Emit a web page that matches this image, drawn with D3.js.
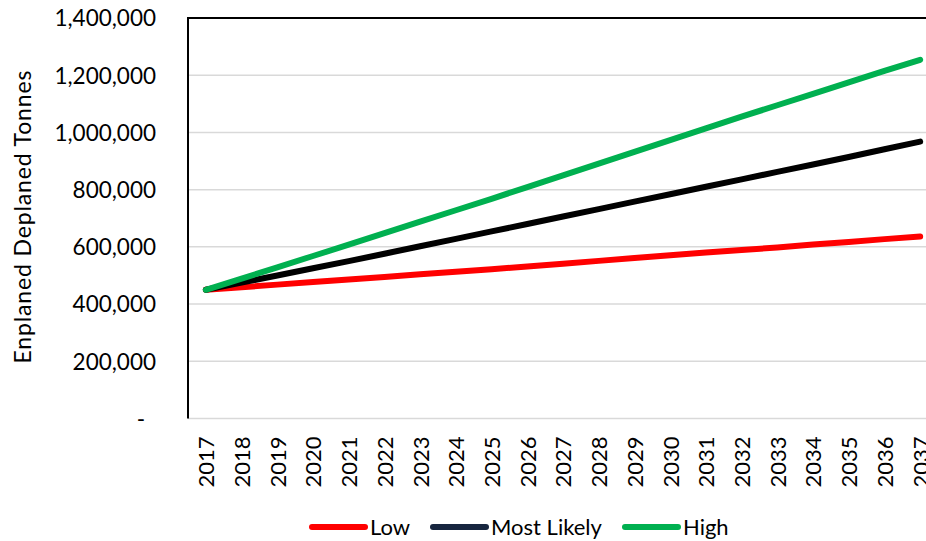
<!DOCTYPE html>
<html>
<head>
<meta charset="utf-8">
<script src="https://cdn.jsdelivr.net/npm/d3@7"></script>
<style>
  html, body { margin: 0; padding: 0; background: #fff; }
  svg { display: block; font-family: Lato, "Open Sans", sans-serif; }
</style>
</head>
<body>
<svg id="chart" width="926" height="541"></svg>
<script>
// Forecast years
const years = ["2017","2018","2019","2020","2021","2022","2023","2024","2025","2026","2027",
               "2028","2029","2030","2031","2032","2033","2034","2035","2036","2037"];

// Enplaned + deplaned tonnes per scenario
const lowValues = [450000, 459000, 468000, 477000, 486000, 495000, 504000, 513000, 522000, 531000, 541000,
                   551000, 561000, 571000, 580000, 589000, 598000, 608000, 617000, 627000, 636000];
const mostLikelyValues = [450000, 475000, 500000, 525000, 550000, 576000, 602000, 628000, 654000, 680000, 706000,
                          732000, 758000, 784000, 810000, 836000, 862000, 888000, 914000, 941000, 968000];
const highValues = [450000, 489000, 528000, 568000, 608000, 648000, 688000, 728000, 768000, 809000, 850000,
                    891000, 932000, 973000, 1014000, 1055000, 1095000, 1135000, 1175000, 1215000, 1254000];

const yTicks = [0, 200000, 400000, 600000, 800000, 1000000, 1200000, 1400000];
const seriesNames = ["Low", "Most Likely", "High"];

const svg = d3.select("#chart");
const W = 926;
const plot = { left: 188, top: 18, right: 938, bottom: 418.5 };

const x = d3.scalePoint().domain(years).range([plot.left, plot.right]).padding(0.5);
const y = d3.scaleLinear().domain([0, 1400000]).range([plot.bottom, plot.top]);

// Horizontal gridlines (light grey), including the baseline
svg.append("g")
  .selectAll("line")
  .data(yTicks.filter(v => v < 1400000))
  .join("line")
  .attr("x1", plot.left).attr("x2", W)
  .attr("y1", d => y(d)).attr("y2", d => y(d))
  .attr("stroke", "#d9d9d9").attr("stroke-width", 1.5);

// Plot frame: black top edge and left axis line
svg.append("line")
  .attr("x1", plot.left).attr("x2", W)
  .attr("y1", y(1400000)).attr("y2", y(1400000))
  .attr("stroke", "#000").attr("stroke-width", 2);
svg.append("line")
  .attr("x1", plot.left).attr("x2", plot.left)
  .attr("y1", plot.top - 1).attr("y2", plot.bottom)
  .attr("stroke", "#000").attr("stroke-width", 2);

// Y axis labels
const fmt = d3.format(",");
const yAxis = d3.axisLeft(y).tickValues(yTicks).tickSize(0)
  .tickFormat(d => d === 0 ? "-" : fmt(d));
const yg = svg.append("g").attr("transform", `translate(${plot.left - 32},0)`).call(yAxis);
yg.select(".domain").remove();
yg.selectAll("text")
  .attr("x", d => d === 0 ? -11 : 0)
  .attr("dy", "0.35em")
  .attr("font-size", 22.5)
  .attr("font-family", "Lato, sans-serif")
  .attr("fill", "#000");

// X axis labels, rotated
const xAxis = d3.axisBottom(x).tickSize(0);
const xg = svg.append("g").attr("transform", `translate(0,${plot.bottom})`).call(xAxis);
xg.select(".domain").remove();
xg.selectAll("text")
  .attr("font-size", 22)
  .attr("font-family", "Lato, sans-serif")
  .attr("fill", "#000")
  .attr("text-anchor", "end")
  .attr("transform", "rotate(-90)")
  .attr("x", -18)
  .attr("y", 0)
  .attr("dy", "0.36em");

// Y axis title
svg.append("text")
  .attr("transform", "translate(31,217) rotate(-90)")
  .attr("text-anchor", "middle")
  .attr("font-size", 23)
  .attr("textLength", 293)
  .attr("lengthAdjust", "spacing")
  .attr("fill", "#000")
  .text("Enplaned Deplaned Tonnes");

// Scenario lines
const line = d3.line().x((d, i) => x(years[i])).y(d => y(d));
const series = [
  { name: "Low", values: lowValues, color: "#ff0000", key: "#ff0000" },
  { name: "Most Likely", values: mostLikelyValues, color: "#000000", key: "#17263f" },
  { name: "High", values: highValues, color: "#00b050", key: "#00b050" }
];

svg.append("g")
  .selectAll("path")
  .data(series)
  .join("path")
  .attr("d", d => line(d.values))
  .attr("fill", "none")
  .attr("stroke", d => d.color)
  .attr("stroke-width", 6)
  .attr("stroke-linecap", "round")
  .attr("stroke-linejoin", "round");

// Legend
const legendPos = [312, 433, 625];
const leg = svg.append("g")
  .selectAll("g")
  .data(series)
  .join("g")
  .attr("transform", (d, i) => `translate(${legendPos[i]},527)`);
leg.append("line")
  .attr("x1", 0).attr("x2", 53)
  .attr("stroke", d => d.key)
  .attr("stroke-width", 6)
  .attr("stroke-linecap", "round");
leg.append("text")
  .attr("x", 58)
  .attr("dy", "0.36em")
  .attr("font-size", 22)
  .attr("fill", "#000")
  .text(d => d.name);
</script>
</body>
</html>
